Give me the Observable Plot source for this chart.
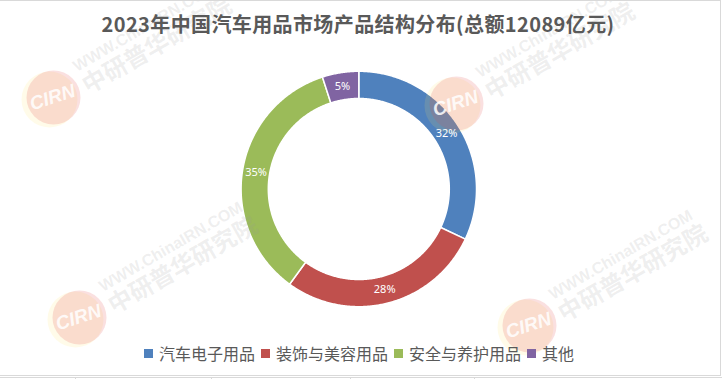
<!DOCTYPE html>
<html><head><meta charset="utf-8">
<script src="https://cdn.jsdelivr.net/npm/d3@7"></script>
<script src="https://cdn.jsdelivr.net/npm/@observablehq/plot@0.6"></script>
<style>
html,body{margin:0;padding:0;background:#fff;}
#wrap{position:relative;width:722px;height:379px;overflow:hidden;background:#fff;}
#frame{position:absolute;left:0;top:0;width:721px;height:376px;box-sizing:border-box;border-top:1px solid #d9d9d9;border-right:1px solid #d9d9d9;border-bottom:1px solid #d9d9d9;}
#chart{position:absolute;left:0;top:0;}
#title{position:absolute;left:0;width:716px;top:9px;line-height:30px;text-align:center;font-weight:bold;font-size:20px;font-family:"Noto Sans CJK SC",sans-serif;color:#595959;white-space:nowrap;}
#legend{position:absolute;top:343px;left:0;width:718px;height:20px;display:flex;justify-content:center;align-items:center;font-size:16px;font-family:"Noto Sans CJK SC",sans-serif;color:#595959;line-height:20px;white-space:nowrap;}
.item{display:flex;align-items:center;margin:0 3px;}
.sw{width:9px;height:9px;margin-right:6px;}
.grid{position:absolute;background:#d9d9d9;}
</style></head>
<body>
<div id="wrap">
  <div id="chart"></div>
  <div id="frame"></div>
  <div class="grid" style="left:0;top:377px;width:722px;height:1px"></div>
  <div class="grid" style="left:75px;top:377px;width:1px;height:2px"></div>
  <div class="grid" style="left:211px;top:377px;width:1px;height:2px"></div>
  <div class="grid" style="left:350px;top:377px;width:1px;height:2px"></div>
  <div class="grid" style="left:474px;top:377px;width:1px;height:2px"></div>
  <div id="title"><span id="tspan"></span></div>
  <div id="legend"></div>
</div>
<script>
// ---- data ----
const titleText = "2023年中国汽车用品市场产品结构分布(总额12089亿元)";
const categories = ["汽车电子用品", "装饰与美容用品", "安全与养护用品", "其他"];
const shares = [32, 28, 35, 5];
const shareLabels = ["32%", "28%", "35%", "5%"];
const colors = ["#4F81BD", "#C0504D", "#9BBB59", "#8064A2"];

// watermark decoration
const wmLine1 = "WWW.ChinaIRN.COM";
const wmLine2 = "中研普华研究院";
const wmLogoText = "CIRN";

// ---- layout ----
const W = 722, H = 379;
const cx = 358.3, cy = 188.5, rOuter = 117.7, rInner = 90.5, rLabel = 104;
const wmCenters = [[52, 97], [455, 103], [78, 317], [528, 325]];

// ---- build geometry from data ----
const rows = categories.map((c, i) => ({cat: c, share: shares[i], label: shareLabels[i]}));
const arcs = d3.pie().sort(null).value(d => d.share)(rows);
const pt = (r, a) => ({x: cx + r * Math.sin(a), y: cy - r * Math.cos(a)});
const ring = [];
for (const a of arcs) {
  const n = Math.max(4, Math.ceil((a.endAngle - a.startAngle) / (Math.PI / 360)));
  for (let k = 0; k <= n; k++) {
    const t = a.startAngle + (a.endAngle - a.startAngle) * k / n;
    ring.push({cat: a.data.cat, ...pt(rOuter, t)});
  }
  for (let k = n; k >= 0; k--) {
    const t = a.startAngle + (a.endAngle - a.startAngle) * k / n;
    ring.push({cat: a.data.cat, ...pt(rInner, t)});
  }
}
const labelPts = arcs.map(a => ({label: a.data.label, ...pt(rLabel, (a.startAngle + a.endAngle) / 2)}));

const wm = wmCenters.map(([x, y]) => ({x, y}));

const plot = Plot.plot({
  width: W, height: H,
  marginTop: 0, marginRight: 0, marginBottom: 0, marginLeft: 0,
  x: {domain: [0, W], range: [0, W], axis: null},
  y: {domain: [0, H], range: [0, H], axis: null},
  color: {domain: categories, range: colors},
  marks: [
    Plot.line(ring, {x: "x", y: "y", z: "cat", fill: "cat", stroke: "white", strokeWidth: 1.5, curve: "linear-closed"}),
    // watermark logos
    Plot.dot(wm, {x: d => d.x - 3, y: d => d.y + 2, r: 28, fill: "#ffe066", fillOpacity: 0.14, stroke: null}),
    Plot.dot(wm, {x: d => d.x + 1, y: d => d.y, r: 27, fill: "#e04848", fillOpacity: 0.17, stroke: null}),
    Plot.text(wm, {x: "x", y: "y", text: () => wmLogoText, fill: "white", fillOpacity: 0.85, fontSize: 19, fontWeight: "bold", fontStyle: "italic", fontFamily: "Liberation Sans", rotate: -18}),
    Plot.text(wm, {x: d => d.x + 22, y: d => d.y - 30, text: () => wmLine1, textAnchor: "start", fill: "#9a9a9a", fillOpacity: 0.17, fontSize: 16, fontWeight: "bold", fontFamily: "Liberation Sans", rotate: -30}),
    Plot.text(wm, {x: d => d.x + 32, y: d => d.y - 10, text: () => wmLine2, textAnchor: "start", fill: "#9a9a9a", fillOpacity: 0.17, fontSize: 24, fontWeight: "bold", fontFamily: "Noto Sans CJK SC", rotate: -30}),
    // data labels
    Plot.text(labelPts, {x: "x", y: "y", text: "label", fill: "white", fontSize: 11, fontFamily: "Noto Sans"})
  ]
});
document.getElementById("chart").appendChild(plot);

// title
const ts = document.getElementById("tspan");
ts.textContent = titleText;
const w0 = ts.getBoundingClientRect().width;
const target = 513;
ts.style.letterSpacing = ((target - w0) / titleText.length).toFixed(3) + "px";

// legend
const leg = document.getElementById("legend");
categories.forEach((c, i) => {
  const it = document.createElement("div");
  it.className = "item";
  const sw = document.createElement("div");
  sw.className = "sw";
  sw.style.background = colors[i];
  const tx = document.createElement("span");
  tx.textContent = c;
  it.appendChild(sw); it.appendChild(tx);
  leg.appendChild(it);
});
</script>
</body></html>
